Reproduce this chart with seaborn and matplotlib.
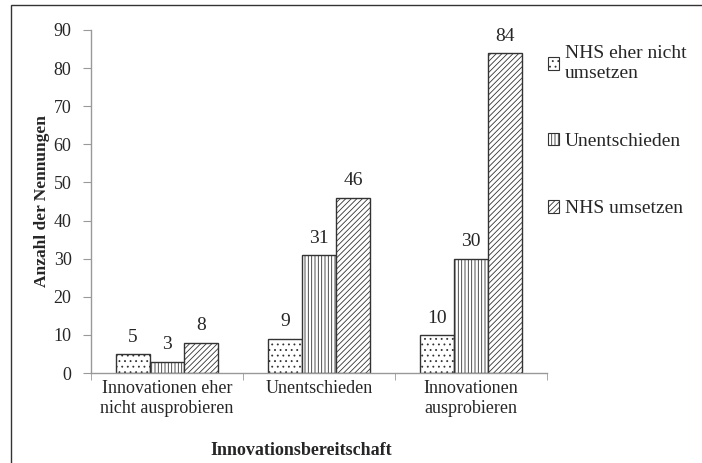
import matplotlib
matplotlib.use("Agg")
import matplotlib.pyplot as plt
from matplotlib.patches import Rectangle
import pandas as pd
import seaborn as sns

# data
categories = ["Innovationen eher\nnicht ausprobieren", "Unentschieden", "Innovationen\nausprobieren"]
groups = ["NHS eher nicht\numsetzen", "Unentschieden", "NHS umsetzen"]
vals_eher_nicht = [5, 9, 10]
vals_unentschieden = [3, 31, 30]
vals_umsetzen = [8, 46, 84]
y_ticks = [0, 10, 20, 30, 40, 50, 60, 70, 80, 90]

hatches = ["...", "|||||", "//////"]

df = pd.DataFrame({
    "Innovationsbereitschaft": categories * 3,
    "Gruppe": [g for g in groups for _ in categories],
    "Anzahl": vals_eher_nicht + vals_unentschieden + vals_umsetzen,
})

sns.set_style("white")
plt.rcParams["font.family"] = ["Liberation Serif", "DejaVu Serif"]
plt.rcParams["hatch.linewidth"] = 0.6

fig = plt.figure(figsize=(7.02, 4.63), dpi=100)
ax = fig.add_axes([91 / 702, 1 - 373 / 463, 456 / 702, 343 / 463])

sns.barplot(data=df, x="Innovationsbereitschaft", y="Anzahl", hue="Gruppe",
            order=categories, hue_order=groups, width=0.67,
            palette=["white"] * 3, edgecolor="#333333", linewidth=1.0,
            saturation=1, legend=True, ax=ax)

for cont, h in zip(ax.containers, hatches):
    for bar in cont:
        bar.set_hatch(h)
    ax.bar_label(cont, padding=6, fontsize=14)

ax.set_ylim(0, 90)
ax.set_xlim(-0.5, 2.5)
ax.set_yticks(y_ticks)
ax.tick_params(axis="y", length=6, color="#999999", labelsize=13, pad=8, left=True)
ax.tick_params(axis="x", which="major", length=0, labelsize=13, pad=5)
ax.set_xticks([-0.5, 0.5, 1.5, 2.5], minor=True)
ax.tick_params(axis="x", which="minor", length=5, color="#999999", bottom=True)

sns.despine(ax=ax)
for s in ["left", "bottom"]:
    ax.spines[s].set_color("#999999")
    ax.spines[s].set_linewidth(1.0)

ax.set_ylabel("Anzahl der Nennungen", fontsize=12.5, fontweight="bold")
ax.yaxis.set_label_coords(-0.09, 0.5)
ax.set_xlabel("Innovationsbereitschaft", fontsize=13, fontweight="bold")
ax.xaxis.set_label_coords(0.46, -0.2)

handles, labels = ax.get_legend_handles_labels()
ax.get_legend().remove()
for hd, h in zip(handles, hatches):
    hd.set_hatch(h)
    hd.set_edgecolor("#333333")
    hd.set_linewidth(0.8)
fig.legend(handles, labels, loc="upper left", bbox_to_anchor=(530 / 702, 1 - 28 / 463),
           frameon=False, fontsize=14, handlelength=0.6, handleheight=0.6,
           handletextpad=0.3, labelspacing=2.6)

# outer frame like the source document
fig.patches.append(Rectangle((11 / 702, -0.1), 1.2, 1 - 5 / 463 + 0.1,
                             transform=fig.transFigure, fill=False,
                             edgecolor="#333333", linewidth=1.0))

fig.savefig("out.png", dpi=100)
